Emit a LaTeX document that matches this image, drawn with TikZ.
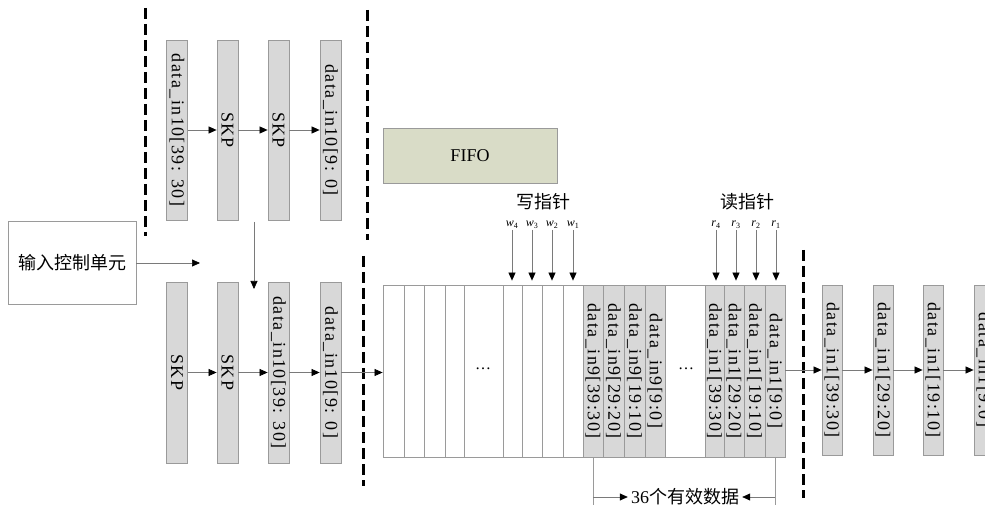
\documentclass[tikz,border=0pt]{standalone}
\usepackage{fontspec}
\setmainfont{Liberation Serif}
\newfontfamily\cjk{Noto Sans CJK SC}
\usetikzlibrary{arrows.meta}
\definecolor{boxfill}{HTML}{D8D8D8}
\definecolor{boxedge}{HTML}{9A9A9A}
\definecolor{fifofill}{HTML}{D9DCC7}
\definecolor{linegray}{HTML}{7A7A7A}
\newcommand\dfont{\fontsize{18}{18}\selectfont\addfontfeature{LetterSpace=8}}
\begin{document}
\begin{tikzpicture}[x=1pt,y=-1pt,
  dbox/.style={rotate=-90, draw=boxedge, fill=boxfill, line width=0.8pt,
    minimum width=180pt, minimum height=21pt, inner sep=0pt, font=\dfont},
  cellw/.style={rotate=-90, draw=boxedge, fill=white, line width=0.8pt,
    minimum width=172pt, inner sep=0pt, font=\dfont},
  cellg/.style={cellw, fill=boxfill},
  arr/.style={draw=linegray, line width=0.7pt, -{Triangle[length=8pt,width=7pt,black]}},
  sep/.style={line width=3pt, dash pattern=on 11pt off 5pt},
  plabel/.style={font=\fontsize{12}{12}\selectfont, inner sep=1pt},
  cjklabel/.style={font=\cjk\fontsize{18}{18}\selectfont},
]
\clip (0,0) rectangle (985,510);
% separators
\draw[sep] (145,8) -- (145,236);
\draw[sep] (367,10) -- (367,240);
\draw[sep] (363,256) -- (363,486);
\draw[sep] (803,250) -- (803,498);

% top row
\node[dbox] (t1) at (177,130) {data\_in10[39: 30]};
\node[dbox] (t2) at (227.5,130) {SKP};
\node[dbox] (t3) at (278.5,130) {SKP};
\node[dbox] (t4) at (330.5,130) {data\_in10[9: 0]};
\draw[arr] (t1) -- (t2);
\draw[arr] (t2) -- (t3);
\draw[arr] (t3) -- (t4);

% input control
\node[draw=boxedge, line width=0.8pt, minimum width=128pt, minimum height=83pt,
  inner sep=0pt, cjklabel] (ctrl) at (72,263) {输入控制单元};
\coordinate (ctrlend) at (200,263);
\draw[arr] (ctrl) -- (ctrlend);
\coordinate (vs) at (254,222);
\coordinate (ve) at (254,289);
\draw[arr] (vs) -- (ve);

% bottom row
\node[dbox, minimum width=181pt] (b1) at (177,372.5) {SKP};
\node[dbox, minimum width=181pt] (b2) at (227.5,372.5) {SKP};
\node[dbox, minimum width=181pt] (b3) at (278.5,372.5) {data\_in10[39: 30]};
\node[dbox, minimum width=181pt] (b4) at (330.5,372.5) {data\_in10[9: 0]};
\draw[arr] (b1) -- (b2);
\draw[arr] (b2) -- (b3);
\draw[arr] (b3) -- (b4);

% FIFO label
\node[draw=boxedge, fill=fifofill, line width=0.8pt, minimum width=174pt,
  minimum height=55pt, font=\fontsize{18}{18}\selectfont] (fifolbl) at (470,155.5) {FIFO};

% FIFO memory
\node[draw=boxedge, line width=0.8pt, minimum width=402pt, minimum height=172pt,
  inner sep=0pt] (fifo) at (584,371) {};
\foreach \l/\r/\n in {383/404/c1,404/424/c2,424/445/c3,445/464/c4,464/503/c5,
  503/522/c6,522/542/c7,542/563/c8,563/583/c9,665/705/c14}
  \node[cellw, minimum height={\r-\l}] (\n) at ({(\l+\r)/2},371) {};
\node[cellg, minimum height=20pt] (c10) at (593,371) {data\_in9[39:30]};
\node[cellg, minimum height=21pt] (c11) at (613.5,371) {data\_in9[29:20]};
\node[cellg, minimum height=21pt] (c12) at (634.5,371) {data\_in9[19:10]};
\node[cellg, minimum height=20pt] (c13) at (655,371) {data\_in9[9:0]};
\node[cellg, minimum height=19pt] (c15) at (714.5,371) {data\_in1[39:30]};
\node[cellg, minimum height=20pt] (c16) at (734,371) {data\_in1[29:20]};
\node[cellg, minimum height=21pt] (c17) at (754.5,371) {data\_in1[19:10]};
\node[cellg, minimum height=20pt] (c18) at (775,371) {data\_in1[9:0]};
\node[font=\fontsize{16}{16}\selectfont] (dots1) at (483,369) {…};
\node[font=\fontsize{16}{16}\selectfont] (dots2) at (686,369) {…};
\draw[arr] (b4) -- (b4 -| fifo.west);

% pointers
\node[cjklabel] (wlbl) at (543,202) {写指针};
\node[cjklabel] (rlbl) at (747,202) {读指针};
\node[plabel] (q4) at (512,225) {\textit{w}\textsubscript{4}};
\node[plabel] (q3) at (532,225) {\textit{w}\textsubscript{3}};
\node[plabel] (q2) at (552,225) {\textit{w}\textsubscript{2}};
\node[plabel] (q1) at (573,225) {\textit{w}\textsubscript{1}};
\node[plabel] (p4) at (716,225) {\textit{r}\textsubscript{4}};
\node[plabel] (p3) at (736,225) {\textit{r}\textsubscript{3}};
\node[plabel] (p2) at (756,225) {\textit{r}\textsubscript{2}};
\node[plabel] (p1) at (776,225) {\textit{r}\textsubscript{1}};
\foreach \p in {q1,q2,q3,q4,p1,p2,p3,p4}
  \draw[arr, shorten >=4pt] (\p.south) -- (\p.south |- fifo.north);

% valid data span
\node[font=\fontsize{18}{18}\selectfont, inner sep=3pt] (valid) at (685,497) {36{\cjk 个有效数据}};
\draw[draw=boxedge, line width=0.8pt] (c10 |- fifo.south) -- ++(0,48);
\draw[draw=boxedge, line width=0.8pt] (c18 |- fifo.south) -- ++(0,48);
\draw[arr] (c10 |- valid) -- (valid.west);
\draw[arr] (c18 |- valid) -- (valid.east);

% right row
\node[dbox, minimum width=170pt, minimum height=20pt] (r1) at (832,370) {data\_in1[39:30]};
\node[dbox, minimum width=170pt, minimum height=20pt] (r2) at (883,370) {data\_in1[29:20]};
\node[dbox, minimum width=170pt, minimum height=20pt] (r3) at (933,370) {data\_in1[19:10]};
\node[dbox, minimum width=170pt, minimum height=20pt] (r4) at (984,370) {data\_in1[9:0]};
\draw[arr] (fifo.east |- r1) -- (r1);
\draw[arr] (r1) -- (r2);
\draw[arr] (r2) -- (r3);
\draw[arr] (r3) -- (r4);
\end{tikzpicture}
\end{document}
